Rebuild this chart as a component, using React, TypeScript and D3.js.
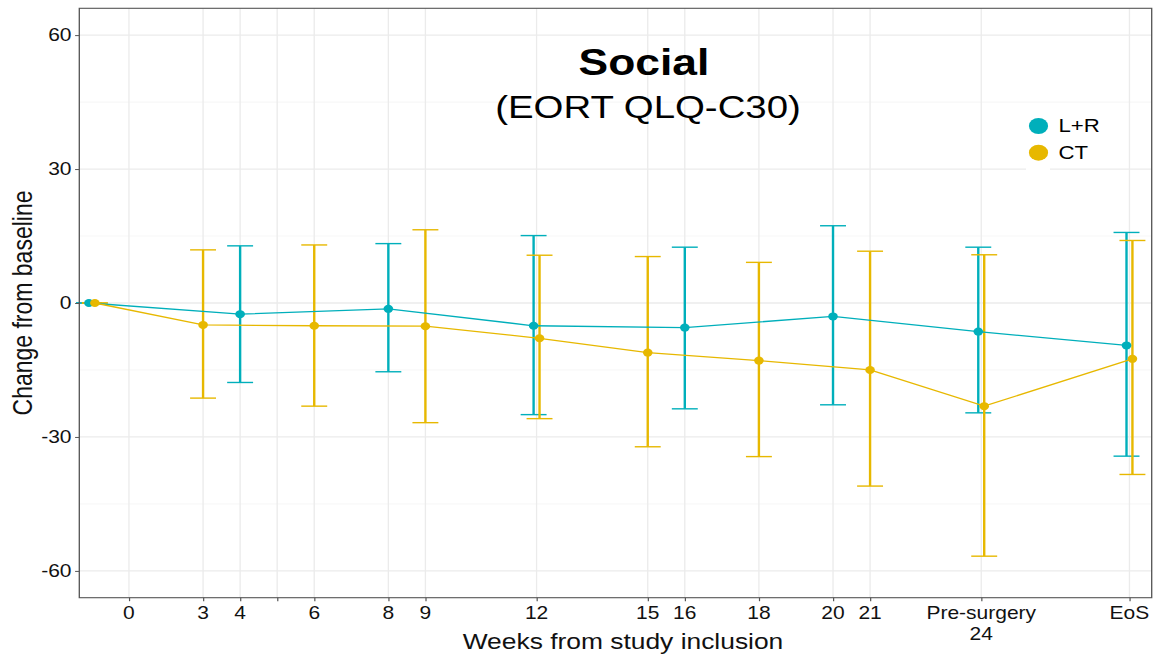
import React, { useEffect, useRef } from 'react';
import * as d3 from 'd3';

// The source picture is stretched horizontally (~1.2x), so we draw in a
// narrower user space and let the viewBox stretch it back out.
const SX = 1.2;
const WIDTH = 1161;
const HEIGHT = 657;

// x positions are the plot's own (uneven) week axis
const tickPositions = [0, 2, 3, 4, 5, 7, 8, 11, 14, 15, 17, 19, 20, 23, 27];
const tickLabels = ['0', '3', '4', '', '6', '8', '9', '12', '15', '16', '18', '20', '21', 'Pre-surgery\n24', 'EoS'];
const yTicks = [-60, -30, 0, 30, 60];
const yMinorTicks = [-45, -15, 15, 45];

const seriesNames = ['L+R', 'CT'];
const seriesColors = ['#00AFBB', '#E7B800'];

// L+R
const lrTime = [-1, 3, 7, 11, 15, 19, 23, 27];
const lrMean = [0, -2.5, -1.3, -5.1, -5.5, -3.0, -6.4, -9.5];
const lrLow = [0, -17.8, -15.4, -25.0, -23.7, -22.8, -24.6, -34.3];
const lrHigh = [0, 12.8, 13.3, 15.1, 12.5, 17.3, 12.5, 15.8];

// CT
const ctTime = [-1, 2, 5, 8, 11, 14, 17, 20, 23, 27];
const ctMean = [0, -4.9, -5.1, -5.2, -7.9, -11.1, -12.9, -15.0, -23.1, -12.5];
const ctLow = [0, -21.3, -23.1, -26.8, -25.9, -32.2, -34.4, -41.0, -56.7, -38.4];
const ctHigh = [0, 11.9, 13.0, 16.4, 10.7, 10.4, 9.1, 11.6, 10.8, 14.0];

type Pt = { t: number; mean: number; low: number; high: number; dx: number };

export default function App() {
    const svgRef = useRef<SVGSVGElement | null>(null);

    useEffect(() => {
        if (!svgRef.current) return;
        const svg = d3.select(svgRef.current);
        svg.selectAll('*').remove();

        const font = '"Liberation Sans", Arial, Helvetica, sans-serif';
        const left = 79.3 / SX;
        const right = 1151.7 / SX;
        const top = 8.3;
        const bottom = 597.7;

        const x = d3.scaleLinear().domain([-1.34, 27.6]).range([left, right]);
        const y = d3.scaleLinear().domain([-66, 66]).range([bottom, top]);

        const raw = [
            { time: lrTime, mean: lrMean, low: lrLow, high: lrHigh },
            { time: ctTime, mean: ctMean, low: ctLow, high: ctHigh },
        ];

        // dodge only where both groups share a timepoint
        const series = raw.map((s, si) => {
            const other = raw[1 - si];
            const pts: Pt[] = s.time.map((t, i) => ({
                t,
                mean: s.mean[i],
                low: s.low[i],
                high: s.high[i],
                dx: other.time.includes(t) ? (si === 0 ? -0.08 : 0.08) : 0,
            }));
            return { name: seriesNames[si], color: seriesColors[si], pts };
        });

        // grid
        const grid = svg.append('g');
        grid.selectAll('.ymin')
            .data(yMinorTicks)
            .enter()
            .append('line')
            .attr('x1', left).attr('x2', right)
            .attr('y1', d => y(d)).attr('y2', d => y(d))
            .attr('stroke', '#F3F3F3')
            .attr('stroke-width', 0.7);
        grid.selectAll('.ymaj')
            .data(yTicks)
            .enter()
            .append('line')
            .attr('x1', left).attr('x2', right)
            .attr('y1', d => y(d)).attr('y2', d => y(d))
            .attr('stroke', '#EBEBEB')
            .attr('stroke-width', 1.3);
        grid.selectAll('.xmaj')
            .data(tickPositions)
            .enter()
            .append('line')
            .attr('x1', d => x(d)).attr('x2', d => x(d))
            .attr('y1', top).attr('y2', bottom)
            .attr('stroke', '#EBEBEB')
            .attr('stroke-width', 1.1);

        // error bars
        const capHalf = 0.35;
        series.forEach(s => {
            const g = svg.append('g').attr('stroke', s.color);
            s.pts.forEach(p => {
                const cx = x(p.t + p.dx);
                g.append('line')
                    .attr('x1', cx).attr('x2', cx)
                    .attr('y1', y(p.high)).attr('y2', y(p.low))
                    .attr('stroke-width', 2);
                [p.high, p.low].forEach(v => {
                    g.append('line')
                        .attr('x1', x(p.t + p.dx - capHalf)).attr('x2', x(p.t + p.dx + capHalf))
                        .attr('y1', y(v)).attr('y2', y(v))
                        .attr('stroke-width', 1.4);
                });
            });
        });

        // lines
        const line = d3.line<Pt>()
            .x(p => x(p.t + p.dx))
            .y(p => y(p.mean));
        series.forEach(s => {
            svg.append('path')
                .datum(s.pts)
                .attr('d', line)
                .attr('fill', 'none')
                .attr('stroke', s.color)
                .attr('stroke-width', 1.3);
        });

        // points
        series.forEach(s => {
            svg.append('g')
                .selectAll('circle')
                .data(s.pts)
                .enter()
                .append('circle')
                .attr('cx', p => x(p.t + p.dx))
                .attr('cy', p => y(p.mean))
                .attr('r', 4)
                .attr('fill', s.color);
        });

        // panel border
        svg.append('rect')
            .attr('x', left).attr('y', top)
            .attr('width', right - left).attr('height', bottom - top)
            .attr('fill', 'none')
            .attr('stroke', '#555')
            .attr('stroke-width', 1.1);

        // y axis
        const yAxis = svg.append('g')
            .attr('transform', `translate(${left},0)`)
            .call(d3.axisLeft(y).tickValues(yTicks).tickSize(3.5).tickPadding(3).tickFormat(d => String(d)));
        yAxis.select('.domain').remove();
        yAxis.selectAll('line').attr('stroke', '#555');
        yAxis.selectAll('text')
            .attr('fill', '#111')
            .style('font-family', font)
            .style('font-size', '17.5px');

        // x axis
        const xAxis = svg.append('g')
            .attr('transform', `translate(0,${bottom})`)
            .call(d3.axisBottom(x).tickValues(tickPositions).tickSize(3.5).tickFormat(() => ''));
        xAxis.select('.domain').remove();
        xAxis.selectAll('line').attr('stroke', '#555');
        xAxis.selectAll('text').remove();
        tickPositions.forEach((t, i) => {
            const lines = tickLabels[i].split('\n');
            const txt = svg.append('text')
                .attr('x', x(t))
                .attr('y', 619)
                .attr('text-anchor', 'middle')
                .attr('fill', '#111')
                .style('font-family', font)
                .style('font-size', '17.5px');
            lines.forEach((l, li) => {
                txt.append('tspan')
                    .attr('x', x(t))
                    .attr('dy', li === 0 ? 0 : 21.5)
                    .text(l);
            });
        });

        // axis titles
        svg.append('text')
            .attr('x', 623 / SX)
            .attr('y', 649)
            .attr('text-anchor', 'middle')
            .attr('fill', '#111')
            .style('font-family', font)
            .style('font-size', '22px')
            .text('Weeks from study inclusion');
        svg.append('text')
            .attr('transform', `translate(${32 / SX},303) rotate(-90)`)
            .attr('text-anchor', 'middle')
            .attr('fill', '#111')
            .style('font-family', font)
            .style('font-size', '23px')
            .text('Change from baseline');

        // title
        svg.append('text')
            .attr('x', 644 / SX)
            .attr('y', 75)
            .attr('text-anchor', 'middle')
            .attr('fill', '#000')
            .style('font-family', font)
            .style('font-weight', 'bold')
            .style('font-size', '37px')
            .text('Social');
        svg.append('text')
            .attr('x', 648 / SX)
            .attr('y', 118)
            .attr('text-anchor', 'middle')
            .attr('fill', '#000')
            .style('font-family', font)
            .style('font-size', '32px')
            .text('(EORT QLQ-C30)');

        // legend
        const legend = svg.append('g');
        legend.append('rect')
            .attr('x', 1026 / SX).attr('y', 110)
            .attr('width', 24 / SX).attr('height', 61)
            .attr('fill', '#fff');
        series.forEach((s, i) => {
            legend.append('circle')
                .attr('cx', 1038.5 / SX)
                .attr('cy', 126 + i * 26.7)
                .attr('r', 8)
                .attr('fill', s.color);
            legend.append('text')
                .attr('x', 1058.5 / SX)
                .attr('y', 132.5 + i * 26.7)
                .attr('fill', '#000')
                .style('font-family', font)
                .style('font-size', '18.5px')
                .text(s.name);
        });
    }, []);

    return (
        <svg
            ref={svgRef}
            width={WIDTH}
            height={HEIGHT}
            viewBox={`0 0 ${WIDTH / SX} ${HEIGHT}`}
            preserveAspectRatio="none"
            style={{ position: 'absolute', left: 0, top: 0, background: '#fff' }}
        />
    );
}
